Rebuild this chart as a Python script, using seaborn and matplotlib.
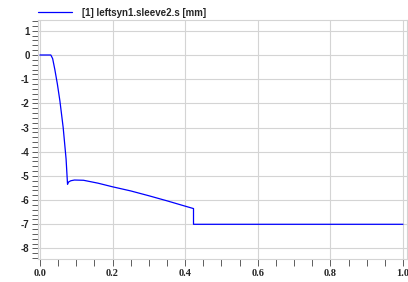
import pandas as pd
import matplotlib
matplotlib.use("Agg")
import matplotlib.pyplot as plt
from matplotlib.ticker import MultipleLocator
import seaborn as sns

# signal
time_s = [0.0, 0.03, 0.035, 0.041, 0.048, 0.055, 0.064, 0.072, 0.076, 0.079,
          0.085, 0.095, 0.12, 0.16, 0.2, 0.25, 0.3, 0.35, 0.4, 0.423, 0.423, 1.0]
sleeve_mm = [0.0, 0.0, -0.15, -0.6, -1.2, -1.9, -3.0, -4.3, -5.35, -5.25,
             -5.2, -5.17, -5.18, -5.3, -5.45, -5.62, -5.82, -6.03, -6.25, -6.35, -7.0, -7.0]
series_name = "[1] leftsyn1.sleeve2.s [mm]"
x_ticks = [0.0, 0.2, 0.4, 0.6, 0.8, 1.0]
y_ticks = [1, 0, -1, -2, -3, -4, -5, -6, -7, -8]

df = pd.DataFrame({"t": time_s, "s": sleeve_mm, "signal": series_name})

sns.set_style("white")
plt.rcParams["font.family"] = ["Liberation Sans", "DejaVu Sans"]

fig = plt.figure(figsize=(4.08, 2.82), dpi=100)
ax = fig.add_axes([0.093, 0.082, 0.9045, 0.847])

sns.lineplot(data=df, x="t", y="s", hue="signal", palette=["#0000ff"],
             sort=False, estimator=None, linewidth=0.9, ax=ax)

ax.set_xlim(-0.0055, 1.011)
ax.set_ylim(-8.43, 1.446)
ax.set_xticks(x_ticks)
ax.set_yticks(y_ticks)
ax.xaxis.set_minor_locator(MultipleLocator(0.05))
ax.yaxis.set_minor_locator(MultipleLocator(0.2))
ax.set_xticklabels([f"{v:.1f}" for v in x_ticks], family="Liberation Serif",
                   fontweight="bold", fontsize=7.5)
ax.set_yticklabels([str(v) for v in y_ticks], fontweight="bold", fontsize=7)
ax.set_xlabel("")
ax.set_ylabel("")

ax.grid(True, which="major", color="#d4d4d4", linewidth=0.8)
for sp in ax.spines.values():
    sp.set_color("#d4d4d4")
    sp.set_linewidth(0.8)

ax.tick_params(axis="both", which="both", direction="out", color="#444444",
               width=0.6, pad=2, bottom=True, left=True)
ax.tick_params(axis="x", which="both", length=5)
ax.tick_params(axis="y", which="both", length=4)

ax.legend(loc="lower left", bbox_to_anchor=(0.0, 1.01), frameon=False,
          borderpad=0, borderaxespad=0, handlelength=3.5, handletextpad=1.0,
          prop={"weight": "bold", "size": 7})

fig.savefig("out.png", dpi=100)
